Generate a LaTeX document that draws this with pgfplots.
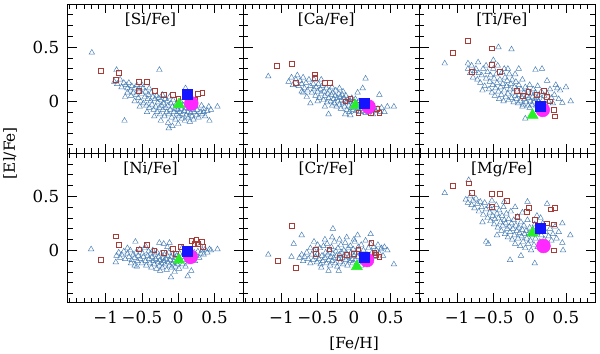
\documentclass[border=0pt]{standalone}
\usepackage{fontspec}
\setmainfont{DejaVu Serif}
\usepackage{pgfplots}
\pgfplotsset{compat=1.18}
\usepgfplotslibrary{groupplots}
\usetikzlibrary{calc}
\definecolor{triblue}{RGB}{70,125,180}
\definecolor{sqred}{RGB}{170,60,55}
\definecolor{greenC}{RGB}{40,240,40}
\definecolor{magC}{RGB}{255,40,255}
\definecolor{blueC}{RGB}{20,20,255}
\pgfplotsset{
  tri/.style={only marks, mark=triangle, mark size=2.4pt, color=triblue, mark options={line width=0.35pt}},
  sq/.style={only marks, mark=square, mark size=1.8pt, color=sqred, mark options={line width=0.45pt}},
  bigc/.style={only marks, mark=*, mark size=5.2pt, color=magC},
  bigt/.style={only marks, mark=triangle*, mark size=4.8pt, color=greenC},
  bigs/.style={only marks, mark=square*, mark size=3.75pt, color=blueC},
}
\newcommand{\ptitle}[1]{\node[anchor=north, yshift=-3pt] at (rel axis cs:0.47,1) {#1};}
\begin{document}
\begin{tikzpicture}[font=\fontsize{11.5}{13}\selectfont]
\begin{groupplot}[
  group style={group size=3 by 2, horizontal sep=0pt, vertical sep=0pt},
  width=132pt, height=112pt, scale only axis,
  xmin=-1.52, xmax=0.9, ymin=-0.48, ymax=0.9,
  xtick={-1,-0.5,0,0.5}, ytick={0,0.5},
  minor xtick={-1.5,-1.4,...,0.85}, minor ytick={-0.4,-0.3,...,0.85},
  tick align=inside, tick pos=both, xticklabel pos=lower, yticklabel pos=left,
  major tick length=7pt, minor tick length=3.5pt,
  every tick/.style={black, line width=0.5pt},
  axis line style={line width=0.6pt},
  every tick label/.append style={font=\fontsize{12.5}{14}\selectfont},
  xticklabel style={yshift=-3pt}, yticklabel style={xshift=-3pt},
  clip=false,
]
% ---------- Si ----------
\nextgroupplot[xticklabels={}, yticklabels={0,0.5}]
\addplot[tri] coordinates {(-1.19,0.45)(-0.85,0.29)(-0.26,0.29)(-0.74,-0.18)(-0.13,-0.25)(-0.08,-0.23)(0.54,-0.05)(0.43,-0.18)(-0.73,0.04)(0.1,0.12)(0.35,-0.1)(0.45,-0.08)
(-0.88,0.18)(-0.84,0.16)(-0.8,0.2)(-0.78,0.13)(-0.75,0.17)(-0.72,0.15)(-0.7,0.12)(-0.68,0.17)(-0.66,0.1)(-0.64,0.14)(-0.62,0.08)(-0.6,0.12)(-0.58,0.06)(-0.57,0.15)(-0.55,0.03)(-0.54,0.09)(-0.52,0.0)(-0.5,0.07)(-0.49,0.12)(-0.48,-0.02)(-0.46,0.04)(-0.45,0.09)(-0.44,-0.04)(-0.42,0.02)(-0.41,0.06)(-0.4,-0.06)(-0.38,0.0)(-0.37,0.08)(-0.36,-0.03)(-0.35,0.04)(-0.34,-0.08)(-0.32,0.02)(-0.31,-0.05)(-0.3,0.05)(-0.29,-0.1)(-0.28,-0.01)(-0.27,0.03)(-0.26,-0.06)(-0.25,-0.12)(-0.24,0.01)(-0.23,-0.04)(-0.22,0.06)(-0.21,-0.08)(-0.2,-0.02)(-0.19,-0.14)(-0.18,0.02)(-0.17,-0.06)(-0.16,-0.1)(-0.15,0.0)(-0.14,-0.04)(-0.13,-0.12)(-0.12,0.04)(-0.11,-0.08)(-0.1,-0.02)(-0.09,-0.15)(-0.08,-0.05)(-0.07,0.01)(-0.06,-0.1)(-0.05,-0.07)(-0.04,-0.17)(-0.03,-0.03)(-0.02,-0.12)(-0.01,-0.08)(0.0,-0.05)(0.01,-0.14)(0.02,-0.1)(0.03,0.0)(0.04,-0.07)(0.05,-0.16)(0.06,-0.12)(0.07,-0.04)(0.08,-0.09)(0.09,-0.18)(0.1,-0.06)(0.11,-0.13)(0.12,-0.02)(0.13,-0.1)(0.14,-0.15)(0.15,-0.07)(0.16,-0.19)(0.17,-0.11)(0.18,-0.04)(0.19,-0.14)(0.2,-0.08)(0.21,-0.17)(0.22,-0.1)(0.24,-0.05)(0.25,-0.13)(0.26,-0.08)(0.28,-0.15)(0.3,-0.1)(0.32,-0.04)(0.33,-0.12)(0.35,-0.07)(0.37,-0.14)(0.4,-0.09)(0.42,-0.05)(-0.6,0.0)(-0.65,0.05)(-0.53,-0.05)(-0.43,-0.1)(-0.33,-0.14)(-0.24,-0.18)(-0.14,-0.2)(0.0,-0.21)(-0.5,0.15)(-0.7,0.08)(-0.4,0.12)(-0.55,0.11)};
\addplot[sq] coordinates {(-1.07,0.28)(-0.82,0.26)(-0.86,0.2)(-0.54,0.18)(-0.43,0.18)(-0.54,0.10)(-0.32,0.10)(-0.2,0.06)(-0.08,0.06)(0.0,0.02)(0.27,0.07)(0.33,0.08)(0.23,0.01)(0.2,-0.02)};
\addplot[bigc] coordinates {(0.18,-0.02)};
\addplot[bigt] coordinates {(0.01,-0.03)};
\addplot[bigs] coordinates {(0.13,0.06)};
\ptitle{[Si/Fe]}
% ---------- Ca ----------
\nextgroupplot[xticklabels={}, yticklabels={}]
\addplot[tri] coordinates {(-1.18,0.23)(0.16,0.21)(0.35,0.06)(-0.72,0.09)(-0.6,-0.02)(-0.35,-0.12)(-0.05,-0.13)(0.46,-0.05)(0.55,-0.05)(0.42,-0.1)(0.12,0.12)(0.05,0.08)(-0.45,0.2)(-0.12,-0.12)
(-0.9,0.18)(-0.86,0.22)(-0.84,0.15)(-0.8,0.2)(-0.78,0.24)(-0.76,0.14)(-0.74,0.19)(-0.72,0.16)(-0.7,0.22)(-0.68,0.12)(-0.66,0.17)(-0.64,0.1)(-0.62,0.2)(-0.6,0.14)(-0.58,0.08)(-0.56,0.16)(-0.55,0.11)(-0.53,0.05)(-0.52,0.13)(-0.5,0.09)(-0.49,0.16)(-0.48,0.03)(-0.46,0.11)(-0.45,0.07)(-0.44,0.14)(-0.42,0.01)(-0.41,0.09)(-0.4,0.05)(-0.38,0.12)(-0.37,-0.01)(-0.36,0.07)(-0.35,0.03)(-0.34,0.1)(-0.32,0.0)(-0.31,0.06)(-0.3,-0.04)(-0.29,0.08)(-0.28,0.02)(-0.27,-0.02)(-0.26,0.05)(-0.25,0.1)(-0.24,-0.05)(-0.23,0.03)(-0.22,0.0)(-0.21,0.07)(-0.2,-0.03)(-0.19,0.04)(-0.18,-0.07)(-0.17,0.01)(-0.16,0.06)(-0.15,-0.02)(-0.14,0.03)(-0.13,-0.05)(-0.12,0.0)(-0.11,0.05)(-0.1,-0.08)(-0.09,-0.01)(-0.08,0.02)(-0.07,-0.04)(-0.06,-0.1)(-0.05,0.0)(-0.04,-0.06)(-0.03,0.03)(-0.02,-0.03)(-0.01,-0.08)(0.0,-0.01)(0.01,-0.05)(0.02,0.02)(0.03,-0.09)(0.04,-0.03)(0.06,-0.06)(0.07,0.0)(0.08,-0.1)(0.09,-0.04)(0.1,-0.07)(0.11,-0.02)(0.13,-0.09)(0.14,-0.05)(0.16,-0.11)(0.17,-0.03)(0.19,-0.07)(0.2,-0.1)(0.22,-0.05)(0.24,-0.08)(0.26,-0.12)(0.28,-0.06)(0.3,-0.09)(0.33,-0.07)(0.36,-0.1)(0.38,-0.06)(-0.65,0.04)(-0.5,0.0)(-0.4,-0.05)(-0.3,0.13)(-0.2,0.12)(-0.15,0.09)(-0.55,0.2)(-0.7,0.08)};
\addplot[sq] coordinates {(-1.06,0.33)(-0.86,0.35)(-0.54,0.25)(-0.54,0.22)(-0.8,0.17)(-0.4,0.17)(-0.33,0.17)(0.06,-0.11)(0.23,-0.11)(0.35,-0.11)(0.32,-0.07)(-0.05,0.02)(-0.12,0.0)(0.25,-0.04)(0.05,-0.03)};
\addplot[bigc] coordinates {(0.2,-0.05)};
\addplot[bigt] coordinates {(0.02,-0.04)};
\addplot[bigs] coordinates {(0.14,-0.02)};
\ptitle{[Ca/Fe]}
% ---------- Ti ----------
\nextgroupplot[xticklabels={}, yticklabels={}]
\addplot[tri] coordinates {(-1.17,0.35)(-0.43,0.5)(-0.25,0.48)(-0.85,0.35)(-0.71,0.36)(0.565,0.0)(0.45,-0.015)(0.5,0.13)(0.08,0.29)(0.17,0.3)(0.24,0.19)(-0.06,-0.16)(0.38,0.12)(-0.5,0.38)(-0.35,0.3)(-0.15,0.3)
(-0.85,0.3)(-0.82,0.26)(-0.8,0.33)(-0.78,0.22)(-0.76,0.28)(-0.74,0.3)(-0.72,0.2)(-0.7,0.26)(-0.68,0.17)(-0.66,0.24)(-0.64,0.3)(-0.62,0.14)(-0.6,0.21)(-0.58,0.27)(-0.56,0.11)(-0.55,0.18)(-0.54,0.24)(-0.52,0.08)(-0.51,0.15)(-0.5,0.3)(-0.49,0.21)(-0.48,0.05)(-0.47,0.12)(-0.46,0.25)(-0.45,0.17)(-0.44,0.33)(-0.43,0.09)(-0.42,0.02)(-0.41,0.2)(-0.4,0.13)(-0.39,0.06)(-0.38,0.27)(-0.37,0.16)(-0.36,0.0)(-0.35,0.1)(-0.34,0.22)(-0.33,0.04)(-0.32,0.14)(-0.31,0.19)(-0.3,0.07)(-0.29,0.01)(-0.28,0.25)(-0.27,0.11)(-0.26,0.16)(-0.25,0.03)(-0.24,0.2)(-0.23,0.08)(-0.22,-0.01)(-0.21,0.13)(-0.2,0.05)(-0.19,0.18)(-0.18,0.02)(-0.17,0.1)(-0.16,-0.02)(-0.15,0.15)(-0.14,0.06)(-0.13,0.0)(-0.12,0.11)(-0.11,0.04)(-0.1,0.2)(-0.09,-0.03)(-0.08,0.08)(-0.07,0.02)(-0.06,0.13)(-0.05,-0.01)(-0.04,0.05)(-0.03,0.1)(-0.02,-0.04)(-0.01,0.03)(0.0,0.15)(0.01,0.0)(0.02,0.07)(0.03,-0.03)(0.04,0.04)(0.05,0.11)(0.06,-0.01)(0.07,0.02)(0.08,0.08)(0.09,-0.04)(0.1,0.03)(0.11,0.14)(0.12,0.0)(0.13,0.06)(0.14,-0.02)(0.16,0.09)(0.18,0.01)(0.2,0.05)(0.22,-0.03)(0.24,0.07)(0.26,0.0)(0.28,0.11)(0.3,0.03)(0.32,-0.02)(0.34,0.06)(0.36,0.15)(0.4,0.02)(0.42,0.1)(-0.6,0.33)(-0.65,0.1)(-0.3,0.3)(-0.2,0.25)(0.0,-0.06)(-0.1,-0.05)};
\addplot[sq] coordinates {(-0.85,0.56)(-1.06,0.45)(-0.52,0.49)(-0.52,0.34)(-0.8,0.27)(-0.41,0.27)(-0.18,0.1)(-0.02,0.09)(0.2,0.1)(0.33,-0.08)(0.35,-0.14)(0.24,0.04)(-0.1,0.05)(0.1,0.06)(0.28,0.0)};
\addplot[bigc] coordinates {(0.18,-0.08)};
\addplot[bigt] coordinates {(0.04,-0.13)};
\addplot[bigs] coordinates {(0.15,-0.05)};
\ptitle{[Ti/Fe]}
% ---------- Ni ----------
\nextgroupplot[xticklabels={−1,−0.5,0,0.5}, yticklabels={0,0.5}]
\addplot[tri] coordinates {(-1.2,0.01)(0.54,0.01)(0.43,0.01)(-0.86,-0.11)(-0.59,0.08)(-0.26,0.07)(-0.12,0.07)(-0.1,-0.25)(0.13,-0.24)(-0.57,-0.15)(-0.2,0.06)(0.3,0.05)
(-0.85,-0.05)(-0.82,-0.02)(-0.8,-0.07)(-0.78,-0.04)(-0.75,-0.01)(-0.73,-0.08)(-0.7,-0.03)(-0.68,-0.06)(-0.66,0.0)(-0.64,-0.09)(-0.62,-0.04)(-0.6,-0.07)(-0.58,-0.02)(-0.56,-0.1)(-0.55,-0.05)(-0.53,0.01)(-0.52,-0.08)(-0.5,-0.12)(-0.49,-0.03)(-0.48,-0.06)(-0.46,0.02)(-0.45,-0.1)(-0.44,-0.14)(-0.42,-0.05)(-0.41,-0.01)(-0.4,-0.08)(-0.39,-0.12)(-0.38,-0.03)(-0.37,-0.16)(-0.36,-0.06)(-0.35,0.0)(-0.34,-0.1)(-0.33,-0.13)(-0.32,-0.04)(-0.31,-0.08)(-0.3,-0.17)(-0.29,-0.02)(-0.28,-0.11)(-0.27,-0.06)(-0.26,-0.14)(-0.25,-0.09)(-0.24,-0.03)(-0.23,-0.12)(-0.22,-0.16)(-0.21,-0.07)(-0.2,-0.1)(-0.19,-0.04)(-0.18,-0.13)(-0.17,-0.08)(-0.16,-0.18)(-0.15,-0.05)(-0.14,-0.11)(-0.13,-0.02)(-0.12,-0.14)(-0.11,-0.09)(-0.1,-0.06)(-0.09,-0.16)(-0.08,-0.12)(-0.07,-0.03)(-0.06,-0.1)(-0.05,-0.07)(-0.04,-0.15)(-0.03,-0.11)(-0.02,-0.05)(-0.01,-0.13)(0.0,-0.08)(0.01,-0.17)(0.02,-0.03)(0.03,-0.1)(0.05,-0.06)(0.06,-0.13)(0.08,-0.09)(0.09,-0.02)(0.1,-0.15)(0.12,-0.07)(0.14,-0.11)(0.15,-0.04)(0.17,-0.09)(0.18,-0.19)(0.2,-0.06)(0.22,-0.02)(0.23,-0.1)(0.25,-0.05)(0.27,-0.01)(0.29,-0.07)(0.31,-0.03)(0.33,0.0)(0.35,-0.04)(0.37,0.01)(0.4,-0.02)(0.45,0.0)(-0.65,-0.12)(-0.45,0.04)(-0.7,0.02)(-0.15,0.03)(0.05,0.02)(-0.6,-0.14)(-0.25,-0.19)(-0.05,-0.2)};
\addplot[sq] coordinates {(-0.865,0.13)(-0.82,0.05)(-1.07,-0.09)(-0.54,0.01)(-0.43,0.05)(-0.33,0.0)(-0.2,-0.02)(-0.08,0.015)(-0.03,-0.03)(0.04,0.03)(0.25,0.1)(0.27,0.06)(0.32,0.08)(0.22,0.06)(0.34,0.03)(0.18,0.09)};
\addplot[bigc] coordinates {(0.17,-0.06)};
\addplot[bigt] coordinates {(0.01,-0.09)};
\addplot[bigs] coordinates {(0.13,-0.01)};
\ptitle{[Ni/Fe]}
% ---------- Cr ----------
\nextgroupplot[xticklabels={−1,−0.5,0,0.5}, yticklabels={}]
\addplot[tri] coordinates {(-1.18,-0.04)(-0.83,0.06)(-0.72,0.14)(-0.29,0.2)(0.23,0.15)(0.55,-0.13)(0.46,0.0)(-0.86,-0.06)(-0.35,-0.19)(-0.21,-0.19)(-0.4,0.1)(-0.1,0.12)(0.05,0.14)(-0.55,0.08)(0.38,0.02)
(-0.75,-0.07)(-0.72,-0.04)(-0.7,-0.1)(-0.68,-0.06)(-0.65,-0.02)(-0.63,-0.08)(-0.6,-0.12)(-0.58,-0.04)(-0.56,-0.09)(-0.55,0.0)(-0.53,-0.06)(-0.51,-0.11)(-0.5,-0.03)(-0.48,-0.08)(-0.47,0.02)(-0.46,-0.13)(-0.44,-0.05)(-0.43,-0.1)(-0.42,0.04)(-0.4,-0.07)(-0.39,-0.02)(-0.38,-0.12)(-0.37,0.06)(-0.36,-0.04)(-0.35,-0.09)(-0.34,0.0)(-0.33,-0.14)(-0.32,-0.06)(-0.31,0.03)(-0.3,-0.1)(-0.29,-0.03)(-0.28,-0.07)(-0.27,0.08)(-0.26,-0.12)(-0.25,-0.01)(-0.24,-0.05)(-0.23,-0.15)(-0.22,0.02)(-0.21,-0.08)(-0.2,-0.04)(-0.19,-0.11)(-0.18,0.05)(-0.17,-0.02)(-0.16,-0.07)(-0.15,-0.13)(-0.14,0.0)(-0.13,-0.05)(-0.12,0.07)(-0.11,-0.09)(-0.1,-0.03)(-0.09,-0.14)(-0.08,0.02)(-0.07,-0.06)(-0.06,-0.1)(-0.05,0.04)(-0.04,-0.02)(-0.03,-0.08)(-0.02,-0.12)(-0.01,0.01)(0.0,-0.05)(0.01,0.08)(0.02,-0.09)(0.03,-0.02)(0.05,-0.06)(0.06,0.03)(0.08,-0.1)(0.09,-0.03)(0.1,0.05)(0.12,-0.07)(0.13,0.0)(0.15,-0.12)(0.16,0.09)(0.18,-0.04)(0.2,0.02)(0.21,-0.08)(0.23,0.06)(0.25,-0.02)(0.27,0.03)(0.29,-0.06)(0.31,0.0)(0.33,0.05)(0.35,-0.03)(0.37,0.01)(0.4,-0.05)(0.42,0.03)(-0.6,0.02)(-0.45,-0.16)(-0.2,0.1)(0.0,0.1)(-0.3,0.12)(0.1,-0.14)(-0.5,0.05)};
\addplot[sq] coordinates {(-0.86,0.23)(-1.05,-0.1)(-0.8,-0.16)(-0.53,0.01)(-0.53,-0.03)(-0.34,0.01)(0.06,0.01)(0.24,0.07)(0.28,-0.02)(0.35,-0.06)(0.0,-0.03)(-0.1,-0.04)(0.3,-0.04)(-0.2,-0.07)};
\addplot[bigc] coordinates {(0.18,-0.09)};
\addplot[bigt] coordinates {(0.04,-0.15)};
\addplot[bigs] coordinates {(0.14,-0.06)};
\ptitle{[Cr/Fe]}
% ---------- Mg ----------
\nextgroupplot[xticklabels={−1,−0.5,0,0.5}, yticklabels={}]
\addplot[tri] coordinates {(-1.17,0.53)(-0.84,0.65)(0.45,0.25)(0.56,0.14)(0.45,0.07)(0.46,0.0)(-0.27,-0.09)(0.07,-0.12)(-0.57,0.06)(0.24,0.43)(-0.03,0.45)(-0.12,-0.05)(0.15,0.3)(-0.6,0.08)
(-0.88,0.47)(-0.85,0.44)(-0.82,0.5)(-0.8,0.42)(-0.78,0.46)(-0.76,0.39)(-0.74,0.48)(-0.72,0.43)(-0.7,0.36)(-0.68,0.45)(-0.66,0.4)(-0.64,0.33)(-0.62,0.44)(-0.6,0.38)(-0.58,0.3)(-0.56,0.41)(-0.55,0.35)(-0.54,0.27)(-0.52,0.46)(-0.51,0.32)(-0.5,0.38)(-0.49,0.24)(-0.48,0.29)(-0.46,0.42)(-0.45,0.34)(-0.44,0.21)(-0.43,0.3)(-0.42,0.37)(-0.4,0.26)(-0.39,0.18)(-0.38,0.32)(-0.37,0.23)(-0.36,0.4)(-0.35,0.28)(-0.34,0.15)(-0.33,0.25)(-0.32,0.34)(-0.31,0.2)(-0.3,0.12)(-0.29,0.29)(-0.28,0.22)(-0.27,0.17)(-0.26,0.36)(-0.25,0.25)(-0.24,0.1)(-0.23,0.2)(-0.22,0.28)(-0.21,0.14)(-0.2,0.06)(-0.19,0.23)(-0.18,0.18)(-0.17,0.31)(-0.16,0.11)(-0.15,0.21)(-0.14,0.16)(-0.13,0.04)(-0.12,0.26)(-0.11,0.13)(-0.1,0.19)(-0.09,0.08)(-0.08,0.23)(-0.07,0.15)(-0.06,0.02)(-0.05,0.18)(-0.04,0.11)(-0.03,0.28)(-0.02,0.06)(-0.01,0.16)(0.0,0.21)(0.01,0.09)(0.02,0.0)(0.03,0.14)(0.05,0.19)(0.06,0.05)(0.07,0.24)(0.08,0.11)(0.1,0.16)(0.11,0.03)(0.12,0.21)(0.14,0.08)(0.16,0.14)(0.18,0.25)(0.2,0.1)(0.22,0.17)(0.24,0.05)(0.26,0.13)(0.28,0.2)(0.3,0.09)(0.32,0.15)(0.35,0.22)(0.37,0.11)(0.4,0.17)(-0.65,0.26)(-0.35,0.45)(-0.1,0.35)(0.1,0.32)(-0.45,0.14)(-0.2,0.4)};
\addplot[sq] coordinates {(-1.06,0.6)(-0.84,0.62)(-0.8,0.53)(-0.52,0.52)(-0.41,0.52)(-0.315,0.46)(-0.52,0.4)(-0.17,0.31)(-0.015,0.395)(-0.04,0.355)(0.07,0.28)(0.29,0.38)(0.35,0.39)(0.33,0.24)(0.24,0.25)(0.33,0.0)};
\addplot[bigc] coordinates {(0.19,0.04)};
\addplot[bigt] coordinates {(0.04,0.16)};
\addplot[bigs] coordinates {(0.15,0.2)};
\ptitle{[Mg/Fe]}
\end{groupplot}
\node[rotate=90] at ($(group c1r1.south west)+(-43.5pt,0)$) {[El/Fe]};
\node at ($(group c1r2.south west)+(215pt,-31pt)$) {[Fe/H]};
\pgfresetboundingbox
\path ($(group c1r1.north west)+(-51pt,3pt)$) rectangle ($(group c3r2.south east)+(3.75pt,-38.25pt)$);
\end{tikzpicture}
\end{document}
